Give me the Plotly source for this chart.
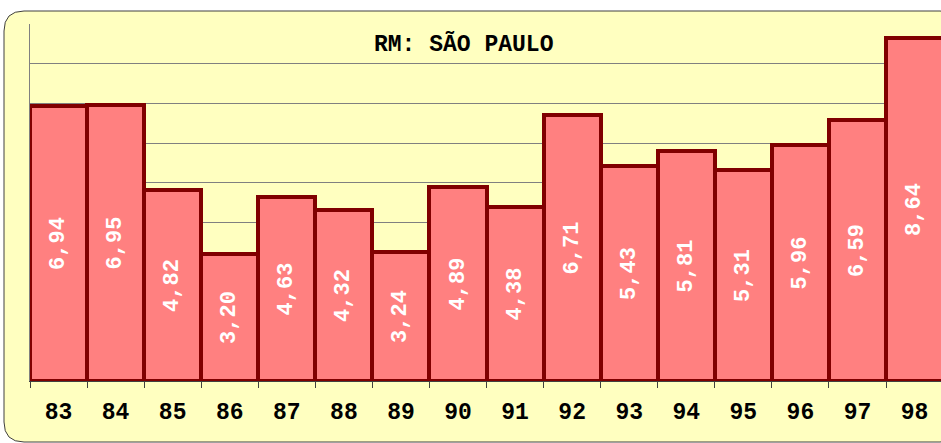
import plotly.graph_objects as go

years = ["83", "84", "85", "86", "87", "88", "89", "90", "91", "92", "93", "94", "95", "96", "97", "98"]
values = [6.94, 6.95, 4.82, 3.20, 4.63, 4.32, 3.24, 4.89, 4.38, 6.71, 5.43, 5.81, 5.31, 5.96, 6.59, 8.64]
title_text = "RM: SÃO PAULO"

W, H = 941, 443
L, R, T, B = 30, 0, 24, 62
pw, ph = W - L - R, H - T - B
FONT = "Liberation Mono, Courier New, monospace"

fig = go.Figure(go.Bar(
    x=years, y=values,
    marker=dict(color="#FF8080", line=dict(color="#800000", width=4)),
    texttemplate="%{y:.2f}", textposition="inside", insidetextanchor="middle",
    textangle=-90, constraintext="none",
    textfont=dict(family=FONT, size=22, color="white", weight="bold"),
    hoverinfo="skip",
))

def px(x):
    return (x - L) / pw

def py(y):
    return (H - B - y) / ph

x0, x1, y0, y1, r = 4, 960, 11, 442, 20
rx, ry = r / pw, r / ph
path = (f"M {px(x0)},{py(y0)-ry} Q {px(x0)},{py(y0)} {px(x0)+rx},{py(y0)} "
        f"L {px(x1)-rx},{py(y0)} Q {px(x1)},{py(y0)} {px(x1)},{py(y0)-ry} "
        f"L {px(x1)},{py(y1)+ry} Q {px(x1)},{py(y1)} {px(x1)-rx},{py(y1)} "
        f"L {px(x0)+rx},{py(y1)} Q {px(x0)},{py(y1)} {px(x0)},{py(y1)+ry} Z")

fig.update_layout(
    width=W, height=H,
    margin=dict(l=L, r=R, t=T, b=B, pad=0),
    paper_bgcolor="white", plot_bgcolor="#FFFFC0",
    bargap=0, showlegend=False, separators=",.",
    shapes=[dict(type="path", xref="paper", yref="paper", path=path,
                 fillcolor="#FFFFC0", line=dict(color="#404040", width=1), layer="below")],
    annotations=[dict(text=f"<b>{title_text}</b>", xref="paper", yref="paper",
                      x=px(463), y=py(44), xanchor="center", yanchor="middle", showarrow=False,
                      font=dict(family=FONT, size=23, color="black"))],
)
fig.update_xaxes(
    type="category", range=[-0.5, -0.5 + pw / ((886 - 30) / 15)],
    showgrid=False, showline=True, linecolor="#404040", linewidth=1,
    ticks="outside", tickson="boundaries", ticklen=6, tickcolor="#404040", tickwidth=1,
    ticklabelstandoff=9,
    tickfont=dict(family=FONT, size=23, color="black", weight="bold"),
    fixedrange=True,
)
fig.update_yaxes(
    range=[0, 9], dtick=1, showgrid=True, gridcolor="#808080", gridwidth=1,
    showline=True, linecolor="#808080", linewidth=1, showticklabels=False,
    ticks="", zeroline=False, fixedrange=True,
)
fig.write_html("out.html", config={"displayModeBar": False},
               post_script="document.body.style.margin='0';document.body.style.overflow='hidden';")
